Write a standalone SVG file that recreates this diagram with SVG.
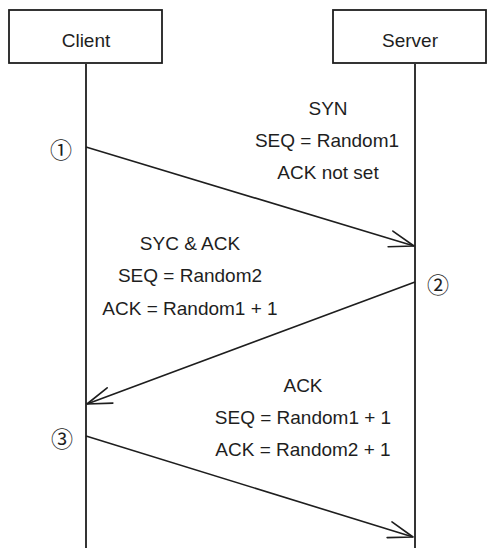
<svg xmlns="http://www.w3.org/2000/svg" width="497" height="559" viewBox="0 0 497 559">
  <defs>
    <style>
      .box { fill: #ffffff; stroke: #1e1e1e; stroke-width: 1.8; }
      .life { stroke: #1e1e1e; stroke-width: 1.8; fill: none; }
      .msg { stroke: #1e1e1e; stroke-width: 1.6; fill: none; }
      .lbl { font-family: "Liberation Sans", Arial, sans-serif; font-size: 19px; fill: #1e1e1e; text-anchor: middle; dominant-baseline: central; }
      .num { font-family: "Noto Sans CJK JP", "DejaVu Sans", sans-serif; font-size: 22px; fill: #1e1e1e; text-anchor: middle; dominant-baseline: central; }
    </style>
    <marker id="open" markerUnits="userSpaceOnUse" orient="auto" refX="0" refY="0" markerWidth="40" markerHeight="40" viewBox="-40 -20 44 40" overflow="visible">
      <path d="M -27 -9 L 0 0 L -27 9" fill="none" stroke="#1e1e1e" stroke-width="1.8" stroke-linecap="round" stroke-linejoin="round"/>
    </marker>
  </defs>
  <rect width="497" height="559" fill="#ffffff"/>

  <g id="lifelines">
    <line class="life" x1="86" y1="64" x2="86" y2="548"/>
    <line class="life" x1="415" y1="64" x2="415" y2="548"/>
  </g>

  <g id="client">
    <rect class="box" x="9" y="10" width="153" height="53"/>
    <text class="lbl" x="86" y="40">Client</text>
  </g>

  <g id="server">
    <rect class="box" x="333" y="10" width="153" height="53"/>
    <text class="lbl" x="410" y="40">Server</text>
  </g>

  <g id="connectors">
    <line class="msg" x1="86" y1="147" x2="414" y2="246" marker-end="url(#open)"/>
    <line class="msg" x1="415" y1="282" x2="87" y2="404" marker-end="url(#open)"/>
    <line class="msg" x1="86" y1="436" x2="413" y2="537" marker-end="url(#open)"/>
  </g>

  <g id="label-syn">
    <text class="num" x="61" y="148">①</text>
    <text class="lbl" x="328" y="108">SYN</text>
    <text class="lbl" x="327" y="140">SEQ = Random1</text>
    <text class="lbl" x="328" y="172">ACK not set</text>
  </g>

  <g id="label-synack">
    <text class="num" x="438" y="283">②</text>
    <text class="lbl" x="190" y="243">SYC &amp; ACK</text>
    <text class="lbl" x="190" y="275">SEQ = Random2</text>
    <text class="lbl" x="190" y="308">ACK = Random1 + 1</text>
  </g>

  <g id="label-ack">
    <text class="num" x="62" y="437">③</text>
    <text class="lbl" x="303" y="385">ACK</text>
    <text class="lbl" x="303" y="417">SEQ = Random1 + 1</text>
    <text class="lbl" x="303" y="449">ACK = Random2 + 1</text>
  </g>
</svg>
